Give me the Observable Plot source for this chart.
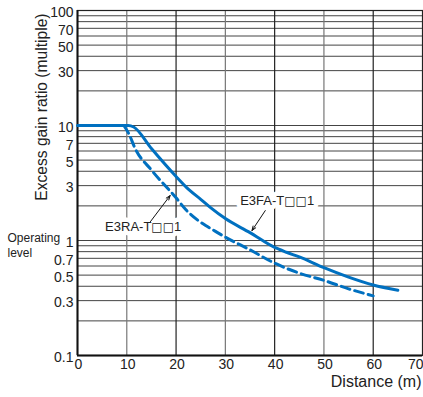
<!DOCTYPE html>
<html>
<head>
<meta charset="utf-8">
<script src="https://cdn.jsdelivr.net/npm/d3@7"></script>
<script src="https://cdn.jsdelivr.net/npm/@observablehq/plot@0.6"></script>
<style>
  html, body { margin: 0; padding: 0; background: #fff; }
  svg { display: block; }
</style>
</head>
<body>
<div id="chart"></div>
<script>
// E3FA-T□□1 (solid)
const solidX = [0, 10.3, 11.4, 15, 20, 22.2, 25, 27, 30, 35, 40, 42.4, 45, 50, 55, 60, 65];
const solidY = [10, 10, 9.7, 6.3, 3.6, 2.87, 2.28, 1.93, 1.55, 1.17, 0.87, 0.79, 0.72, 0.58, 0.48, 0.41, 0.37];
// E3RA-T□□1 (dashed)
const dashX = [9.4, 10.4, 11.7, 15, 20, 22, 24, 26, 28, 30, 35, 40, 45, 50, 55, 60];
const dashY = [10, 8.5, 6.3, 4.1, 2.35, 1.85, 1.55, 1.35, 1.2, 1.07, 0.83, 0.635, 0.52, 0.45, 0.38, 0.33];

const xTicks = [0, 10, 20, 30, 40, 50, 60];
const xLastTick = [70];
const yTicks = [0.1, 0.3, 0.5, 0.7, 1, 3, 5, 7, 10, 30, 50, 70, 100];
const yGrid = [0.2, 0.3, 0.4, 0.5, 0.6, 0.7, 0.8, 0.9, 1, 2, 3, 4, 5, 6, 7, 8, 9, 10, 20, 30, 40, 50, 60, 70, 80, 90];
const xGrid = [10, 20, 30, 40, 50, 60];

const seriesNames = ["E3FA-T\u25A1\u25A11", "E3RA-T\u25A1\u25A11"];
// annotation anchors (data coordinates): label position, arrow start, arrow end
const labelX = [33, 5.6];
const labelY = [2.23, 1.32];
const arrowFrom = [[38.1, 1.82], [14.8, 1.46]];
const arrowTo = [[35.4, 1.22], [18.8, 2.46]];

const solid = solidX.map((x, i) => ({x, y: solidY[i]}));
const dashed = dashX.map((x, i) => ({x, y: dashY[i]}));
const labels = seriesNames.map((name, i) => ({name, x: labelX[i], y: labelY[i]}));
const arrows = seriesNames.map((name, i) => ({x1: arrowFrom[i][0], y1: arrowFrom[i][1], x2: arrowTo[i][0], y2: arrowTo[i][1]}));

const blue = "#0070c0";
const fmt = d => String(d);

const chart = Plot.plot({
  width: 423,
  height: 397,
  marginLeft: 77,
  marginRight: 1,
  marginTop: 10,
  marginBottom: 42,
  style: {fontFamily: "'Liberation Sans', Arial, sans-serif", background: "#fff", color: "#222"},
  x: {domain: [0, 70], axis: null},
  y: {type: "log", domain: [0.1, 100], axis: null},
  marks: [
    Plot.ruleY(yGrid, {stroke: "#444", strokeWidth: 1}),
    Plot.ruleX(xGrid, {stroke: d => (d % 20 === 0 ? "#222" : "#777"), strokeWidth: 1.2}),
    Plot.frame({stroke: "#222", strokeWidth: 1.2}),
    Plot.ruleX([0], {stroke: "#111", strokeWidth: 2}),
    Plot.ruleY([0.1], {stroke: "#111", strokeWidth: 2}),
    // y tick labels
    Plot.text(yTicks, {y: d => d, text: fmt, frameAnchor: "left", textAnchor: "end", dx: -4, dy: 2, fontSize: 14, fill: "#222"}),
    // x tick labels
    Plot.text(xTicks, {x: d => d, text: fmt, frameAnchor: "bottom", textAnchor: "middle", dx: 1, dy: 13, fontSize: 14, fill: "#222"}),
    Plot.text(xLastTick, {x: d => d, text: fmt, frameAnchor: "bottom", textAnchor: "end", dx: 1, dy: 13, fontSize: 14, fill: "#222"}),
    Plot.text(["Distance (m)"], {frameAnchor: "bottom-right", textAnchor: "end", dy: 31, dx: -1, fontSize: 16, fill: "#222"}),
    Plot.text(["Excess gain ratio (multiple)"], {frameAnchor: "top-left", rotate: -90, textAnchor: "end", dx: -42, dy: 3, fontSize: 15.6, fill: "#222"}),
    Plot.text(["Operating"], {y: [1], frameAnchor: "left", textAnchor: "start", dx: -70, dy: -2, fontSize: 12, fill: "#222"}),
    Plot.text(["level"], {y: [1], frameAnchor: "left", textAnchor: "start", dx: -70, dy: 13, fontSize: 12, fill: "#222"}),
    Plot.line(solid, {x: "x", y: "y", stroke: blue, strokeWidth: 3, curve: "monotone-x"}),
    Plot.line(dashed, {x: "x", y: "y", stroke: blue, strokeWidth: 3, strokeDasharray: "9,5", curve: "monotone-x"}),
    // white box behind labels (halo), then the labels themselves
    Plot.text(labels, {x: "x", y: "y", text: "name", textAnchor: "start", fontSize: 13, fill: "#fff", stroke: "#fff", strokeWidth: 9, className: "series-label"}),
    Plot.text(labels, {x: "x", y: "y", text: "name", textAnchor: "start", fontSize: 13, fill: "#222", className: "series-label"}),
    Plot.arrow(arrows, {x1: "x1", y1: "y1", x2: "x2", y2: "y2", stroke: "#111", strokeWidth: 1, headLength: 7, headAngle: 40})
  ]
});

// render the white squares with a font that draws them at cap-height size
d3.select(chart).selectAll(".series-label text").each(function() {
  const el = d3.select(this);
  const t = el.text();
  el.text(null);
  t.split(/(\u25A1+)/).filter(s => s.length).forEach(part => {
    const ts = el.append("tspan").text(part);
    if (/\u25A1/.test(part)) ts.style("font-family", "'DejaVu Sans'").style("font-size", "12px");
  });
});

document.getElementById("chart").appendChild(chart);
</script>
</body>
</html>
